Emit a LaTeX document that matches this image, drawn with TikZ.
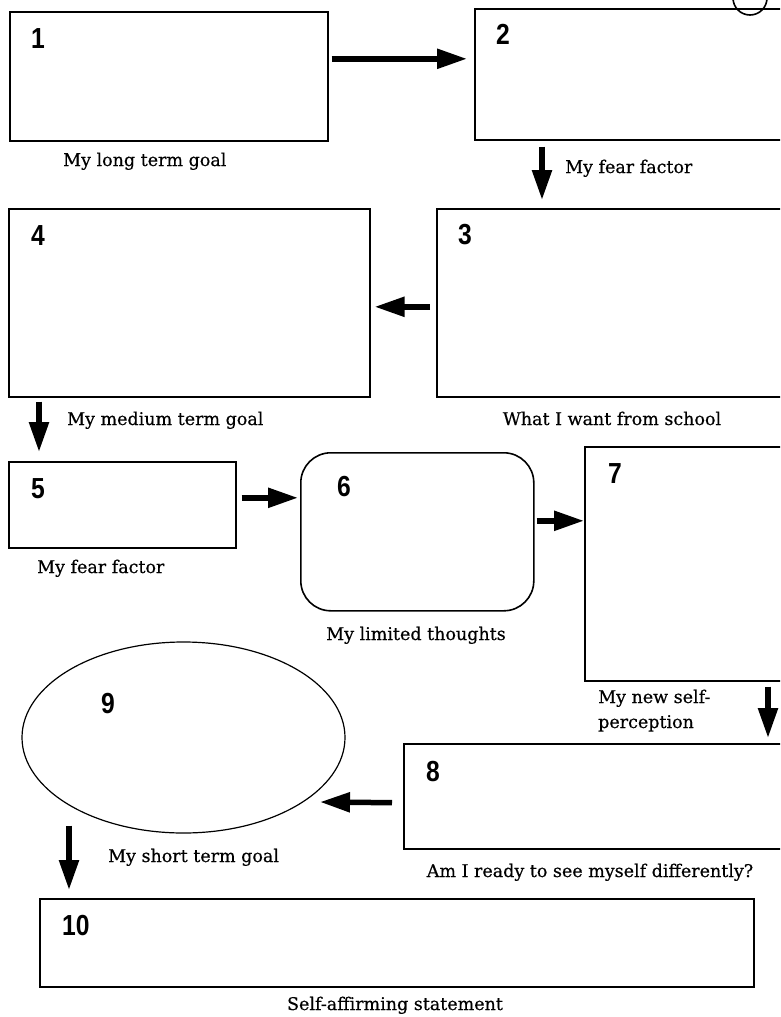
\documentclass[tikz,border=0pt]{standalone}
\usepackage{fontspec}
\setmainfont[FakeBold=0.5]{DejaVu Serif}
\newfontfamily\numfont[FakeStretch=0.85]{Liberation Sans}
\usetikzlibrary{arrows.meta,positioning,shapes.geometric}

\tikzset{
  box/.style={draw,line width=1.6pt,inner sep=0pt,anchor=north west},
  num/.style={font=\numfont\bfseries\fontsize{29}{29}\selectfont,anchor=base west,inner sep=0pt},
  lbl/.style={font=\fontsize{17.5}{25}\selectfont,inner sep=0pt},
  flow/.style={line width=5.5pt,-{Triangle[length=30pt,width=19pt]}},
}

\begin{document}
\begin{tikzpicture}[x=1pt,y=-1pt]
  \useasboundingbox (0,0) rectangle (780,1017);
  \clip (0,0) rectangle (780,1017);
  % Boxes
  \node[box,minimum width=318pt,minimum height=129pt] (b1) at (9,11) {};
  \node[box,minimum width=340pt,minimum height=131pt] (b2) at (474,8) {};
  \node[box,minimum width=360pt,minimum height=188pt] (b3) at (436,208) {};
  \node[box,minimum width=361pt,minimum height=188pt] (b4) at (8,208) {};
  \node[box,minimum width=227pt,minimum height=86pt] (b5) at (8,461) {};
  \node[box,rounded corners=30pt,minimum width=233pt,minimum height=158pt] (b6) at (300,452) {};
  \node[box,minimum width=220pt,minimum height=234pt] (b7) at (584,446) {};
  \node[box,minimum width=400pt,minimum height=105pt] (b8) at (403,743) {};
  \node[draw,ellipse,line width=1.2pt,inner sep=0pt,minimum width=323pt,minimum height=191pt] (b9) at (183.5,737.5) {};
  \node[box,minimum width=714pt,minimum height=88pt] (b10) at (39,898) {};
  % Stray ring in the corner
  \draw[line width=1.6pt] (750,-2) circle (17);
  % Numbers
  \node[num] (n1) at (31,48) {1};
  \node[num] (n2) at (496,44) {2};
  \node[num] (n3) at (458,244) {3};
  \node[num] (n4) at (31,245) {4};
  \node[num] (n5) at (31,498) {5};
  \node[num] (n6) at (337,496) {6};
  \node[num] (n7) at (608,483) {7};
  \node[num] (n8) at (426,781) {8};
  \node[num] (n9) at (101,713) {9};
  \node[num] (n10) at (62,935) {10};
  % Captions
  \node[lbl,anchor=base west] (l1) at (63,166) {My long term goal};
  \node[lbl,anchor=base west] (l2) at (565,173) {My fear factor};
  \node[lbl,anchor=base] (l3) at (612,425) {What I want from school};
  \node[lbl,anchor=base west] (l4) at (67,425) {My medium term goal};
  \node[lbl,anchor=base west] (l5) at (37,573) {My fear factor};
  \node[lbl,anchor=base] (l6) at (416,640) {My limited thoughts};
  \node[lbl,anchor=base west] (l7a) at (598,703) {My new self-};
  \node[lbl,anchor=base west] (l7b) at (598,728) {perception};
  \node[lbl,anchor=base] (l8) at (590,877) {Am I ready to see myself differently?};
  \node[lbl,anchor=base west] (l9) at (108,862) {My short term goal};
  \node[lbl,anchor=base] (l10) at (395,1010) {Self-affirming statement};
  % Arrows
  \draw[flow,shorten <=3pt,shorten >=7pt] ([yshift=17.5pt]b1.east) -- ([yshift=15.5pt]b2.west);
  \draw[flow,shorten <=6pt,shorten >=8pt] ([xshift=68pt]b2.south west) -- ([xshift=106pt]b3.north west);
  \draw[flow,shorten <=6pt,shorten >=4pt] ([yshift=-4pt]b3.west) -- ([yshift=-4pt]b4.east);
  \draw[flow,shorten <=4pt,shorten >=9pt] ([xshift=31pt]b4.south west) -- ([xshift=31pt]b5.north west);
  \draw[flow,shorten <=5pt,shorten >=2pt] ([yshift=7pt]b5.east) -- ([yshift=34pt]b6.west);
  \draw[flow,shorten <=2pt] ([yshift=11pt]b6.east) -- ([yshift=43pt]b7.west);
  \draw[flow,shorten <=5pt,shorten >=5pt] ([xshift=184pt]b7.south west) -- ([xshift=365pt]b8.north west);
  \draw[flow,shorten <=11pt] ([yshift=-6.5pt]b8.west) -- ([xshift=136.5pt,yshift=-64.5pt]b9.center);
  \draw[flow,shorten >=8pt] ([xshift=-114.5pt,yshift=8pt]b9.south) -- ([xshift=30pt]b10.north west);
\end{tikzpicture}
\end{document}
